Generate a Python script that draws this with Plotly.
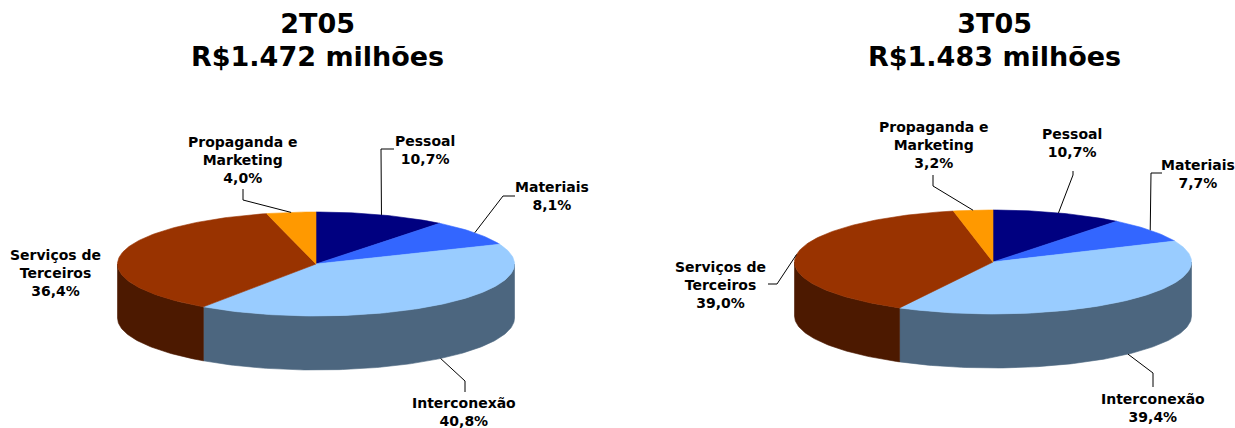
import math
import plotly.graph_objects as go

# ---- data -------------------------------------------------------------
periods = ["2T05", "3T05"]
totals = ["R$1.472 milhões", "R$1.483 milhões"]
categories = ["Pessoal", "Materiais", "Interconexão",
              "Serviços de<br>Terceiros", "Propaganda e<br>Marketing"]
share_2t05 = [10.7, 8.1, 40.8, 36.4, 4.0]
share_3t05 = [10.7, 7.7, 39.4, 39.0, 3.2]
colors = ["#000080", "#3366FF", "#99CCFF", "#993300", "#FF9900"]

# ---- layout constants (pixel space) ------------------------------------
W, H = 1235, 428
RX, RY, DEPTH = 198.5, 52, 54
pies = [
    dict(cx=316, cy=264, title_x=317, shares=share_2t05,
         labels=[(425, 150), (552, 196), (464, 412), (55, 273), (243, 160)],
         leaders=[[(381, 149), (394, 149)],
                  [(503, 196), (515, 196)],
                  [(465, 381), (465, 392)],
                  None,
                  [(243, 200), (243, 189)]]),
    dict(cx=993, cy=262, title_x=994, shares=share_3t05,
         labels=[(1072, 143), (1198, 174), (1153, 408), (720, 285), (934, 145)],
         leaders=[[(1073, 175), (1073, 171)],
                  [(1151, 173), (1162, 173)],
                  [(1153, 373), (1153, 387)],
                  [(777, 284), (768, 284)],
                  [(933, 186), (933, 175)]]),
]


def shade(hex_color, f):
    r, g, b = (int(hex_color[i:i + 2], 16) for i in (1, 3, 5))
    return "#%02x%02x%02x" % (int(r * f), int(g * f), int(b * f))


def pt(cx, cy, ang, dy=0.0):
    a = math.radians(ang)
    return cx + RX * math.sin(a), cy - RY * math.cos(a) + dy


def arc(cx, cy, a0, a1, dy=0.0, step=1.0):
    n = max(2, int(abs(a1 - a0) / step) + 1)
    return [pt(cx, cy, a0 + (a1 - a0) * i / (n - 1), dy) for i in range(n)]


def poly_trace(points, color):
    xs = [p[0] for p in points] + [points[0][0]]
    ys = [p[1] for p in points] + [points[0][1]]
    return go.Scatter(x=xs, y=ys, mode="lines", fill="toself",
                      fillcolor=color, line=dict(color=color, width=0.6),
                      hoverinfo="skip", showlegend=False)


def fmt(v):
    return f"{v:.1f}".replace(".", ",") + "%"


fig = go.Figure()
annotations = []
font_lbl = dict(family="DejaVu Sans", size=14, color="black", weight="bold")
# title glyphs are 27px; the base size sets the spacing between the two lines
font_ttl = dict(family="DejaVu Sans", size=25, color="black", weight="bold")
big = '<span style="font-size:27px">{}</span>'

for k, pie in enumerate(pies):
    cx, cy, shares = pie["cx"], pie["cy"], pie["shares"]
    bounds, acc = [], 0.0
    for s in shares:
        a0 = acc / 100 * 360
        acc += s
        bounds.append((a0, acc / 100 * 360))

    # visible front walls
    for (a0, a1), c in zip(bounds, colors):
        s0, s1 = max(a0, 90), min(a1, 270)
        if s1 > s0:
            top = arc(cx, cy, s0, s1)
            bottom = arc(cx, cy, s1, s0, DEPTH)
            fig.add_trace(poly_trace(top + bottom, shade(c, 0.5)))

    # top faces
    for (a0, a1), c in zip(bounds, colors):
        fig.add_trace(poly_trace([(cx, cy)] + arc(cx, cy, a0, a1), c))

    # labels with leader lines
    for i, ((a0, a1), name, s) in enumerate(zip(bounds, categories, shares)):
        mid = (a0 + a1) / 2
        front = 90 < mid < 270 and abs(math.cos(math.radians(mid))) > 0.5
        anchor = pt(cx, cy, mid, DEPTH if front else 0)
        way = pie["leaders"][i]
        if way:
            path = [anchor] + way
            fig.add_trace(go.Scatter(x=[p[0] for p in path], y=[p[1] for p in path],
                                     mode="lines", line=dict(color="black", width=1),
                                     hoverinfo="skip", showlegend=False))
        lx, ly = pie["labels"][i]
        annotations.append(dict(x=lx, y=ly, xref="x", yref="y", showarrow=False,
                                text=f"{name}<br>{fmt(s)}", font=font_lbl,
                                align="center", xanchor="center", yanchor="middle"))

    annotations.append(dict(x=pie["title_x"], y=40, xref="x", yref="y", showarrow=False,
                            text=big.format(periods[k]) + "<br>" + big.format(totals[k]),
                            font=font_ttl, align="center",
                            xanchor="center", yanchor="middle"))

fig.update_layout(
    width=W, height=H, autosize=False,
    margin=dict(l=0, r=0, t=0, b=0),
    paper_bgcolor="white", plot_bgcolor="white",
    xaxis=dict(range=[0, W], visible=False, fixedrange=True),
    yaxis=dict(range=[H, 0], visible=False, fixedrange=True),
    annotations=annotations,
    showlegend=False,
)

fig.write_html("out.html", config={"displayModeBar": False})
